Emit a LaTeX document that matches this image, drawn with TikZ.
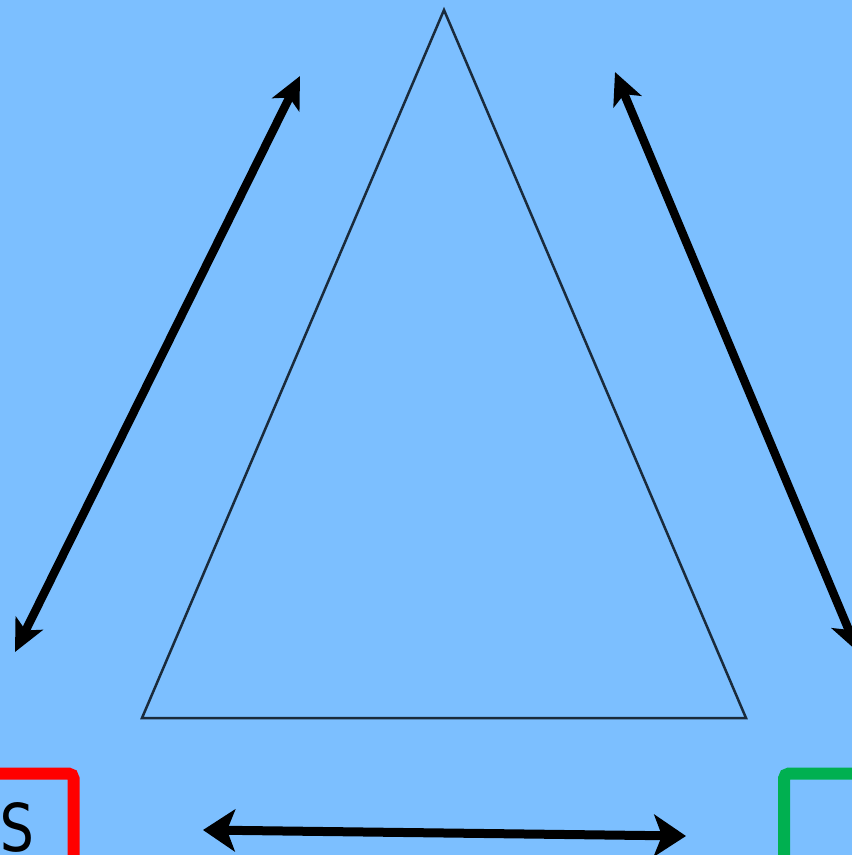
\documentclass[tikz,border=0pt]{standalone}
\usepackage{fontspec}
\newfontfamily\labelfont{DejaVu Sans Mono}
\usepackage{tikz}
\usetikzlibrary{arrows.meta}
\definecolor{skyback}{HTML}{7CBFFF}
\definecolor{edgenavy}{HTML}{1A2B3C}
\definecolor{boxred}{HTML}{FF0000}
\definecolor{boxgreen}{HTML}{00B050}

\begin{document}
\begin{tikzpicture}[x=1pt,y=-1pt,
  dbl/.style={line width=8.5pt,{Stealth[length=32pt,width=30pt,inset=8pt]}-{Stealth[length=32pt,width=30pt,inset=8pt]}},
  flat/.style={line width=9pt,{Stealth[length=32pt,width=42pt,inset=8pt]}-{Stealth[length=32pt,width=42pt,inset=8pt]}},
  corner/.style={line width=12pt,rounded corners=5pt,minimum height=107pt,inner sep=0pt}]
\fill[skyback] (0,0) rectangle (852,855);
\useasboundingbox (0,0) rectangle (852,855);
\clip (0,0) rectangle (852,855);
% triangle
\coordinate (apex) at (444,10);
\coordinate (bl) at (142,718);
\coordinate (br) at (746,718);
\draw[edgenavy,line width=2.5pt] (apex) -- (bl) -- (br) -- cycle;
% boxes at the bottom corners
\node[corner,draw=boxred,minimum width=113pt] (redbox) at (17,827) {\labelfont\fontsize{66}{70}\selectfont\scalebox{0.9}[1]{S}};
\node[corner,draw=boxgreen,minimum width=120pt] (greenbox) at (844,827) {};
% arrows
\coordinate (la) at (15,652);
\coordinate (lb) at (300,76);
\coordinate (ra) at (615,72);
\coordinate (rb) at (858,652);
\coordinate (ba) at (203,830);
\coordinate (bb) at (686,836);
\draw[dbl] (la) -- (lb);
\draw[dbl] (ra) -- (rb);
\draw[flat] (ba) -- (bb);
\end{tikzpicture}
\end{document}
